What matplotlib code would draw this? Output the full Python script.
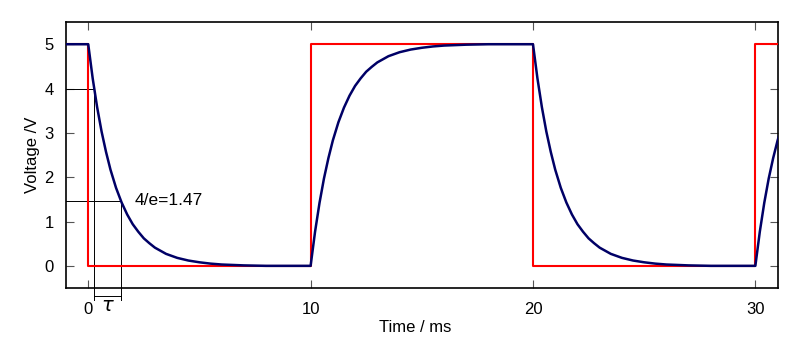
import matplotlib.pyplot as plt
import numpy as np

plt.rcParams['font.family'] = ['Liberation Sans', 'DejaVu Sans']

# square wave input (red)
sq_t = [-1, 0, 0, 10, 10, 20, 20, 30, 30, 31]
sq_v = [5, 5, 0, 0, 5, 5, 0, 0, 5, 5]

# capacitor voltage, time since the last edge
t_rel = [0, 0.2, 0.4, 0.6, 0.8, 1.0, 1.25, 1.5, 1.75, 2.0, 2.25, 2.5, 2.75,
         3.0, 3.5, 4.0, 4.5, 5.0, 5.5, 6.0, 7.0, 8.0, 10.0]
v_fall = [5.00, 4.23, 3.58, 3.03, 2.57, 2.17, 1.76, 1.43, 1.16, 0.94, 0.77,
          0.62, 0.51, 0.41, 0.27, 0.18, 0.12, 0.08, 0.05, 0.03, 0.01, 0.00, 0.00]
v_rise = [0.00, 0.77, 1.42, 1.97, 2.43, 2.83, 3.24, 3.57, 3.84, 4.06, 4.23,
          4.38, 4.49, 4.59, 4.73, 4.82, 4.88, 4.92, 4.95, 4.97, 4.99, 5.00, 5.00]
edges = [0, 10, 20, 30]
kinds = ["fall", "rise", "fall", "rise"]

# tau annotation
t4 = 0.27       # where the curve passes 4 V
tau = 1.2
v_e = 1.47      # 4/e

fig = plt.figure(figsize=(8, 3.56), dpi=100)
ax = fig.add_axes([0.0825, 0.191, 0.8895, 0.747])

ax.plot(sq_t, sq_v, color='#ff0000', lw=1.5, zorder=3)

ct = [-1]
cv = [5]
for e, k in zip(edges, kinds):
    vals = v_fall if k == "fall" else v_rise
    ct += [e + t for t in t_rel]
    cv += vals
ax.plot(ct, cv, color='#000066', lw=1.8, zorder=4)

lk = dict(color='black', lw=0.7, zorder=2)
ax.plot([-1, t4], [4, 4], **lk)
ax.plot([-1, t4 + tau], [v_e, v_e], **lk)
ax.plot([t4, t4], [4, -0.76], clip_on=False, **lk)
ax.plot([t4 + tau, t4 + tau], [v_e, -0.76], clip_on=False, **lk)
ax.plot([t4, t4 + tau], [-0.674, -0.674], clip_on=False, **lk)
ax.text(t4 + tau / 2, -0.92, r'$\tau$', ha='center', va='center', fontsize=14)
ax.text(2.1, 1.48, '4/e=1.47', ha='left', va='center', fontsize=12.5)

ax.set_xlim(-1, 31)
ax.set_ylim(-0.5, 5.5)
ax.set_xticks([0, 10, 20, 30])
ax.set_yticks([0, 1, 2, 3, 4, 5])
ax.tick_params(direction='in', length=5.5, width=0.8, color='#555555',
               labelsize=12, top=True, right=True, pad=9)
ax.tick_params(axis='x', pad=10)
for s in ax.spines.values():
    s.set_linewidth(1.2)
ax.set_xlabel('Time / ms', fontsize=12, labelpad=2)
ax.xaxis.label.set_x(0.491)
ax.set_ylabel('Voltage /V', fontsize=12, labelpad=3)

fig.savefig('out.png', dpi=100)
